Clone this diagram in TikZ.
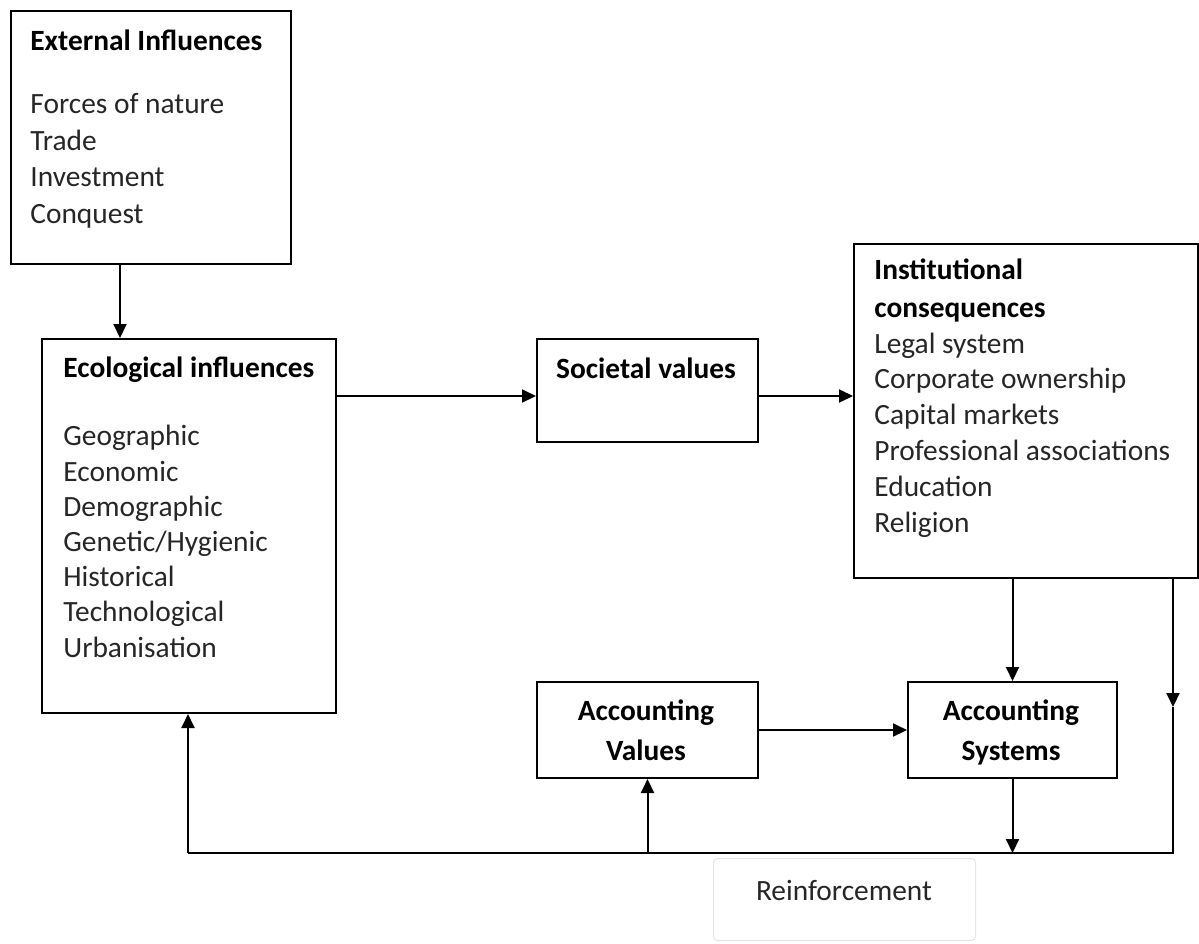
\documentclass[tikz,border=0pt]{standalone}
\usepackage{fontspec}
\setmainfont{Carlito}
\usetikzlibrary{arrows.meta}
\tikzstyle{boite} = [rectangle, draw=black, line width=1pt, anchor=north west, inner sep=0pt]
\tikzstyle{texte} = [anchor=base west, align=left, inner sep=0pt, text=black!85, font=\fontsize{14.7}{17.6}\selectfont]
\tikzstyle{titre} = [anchor=base, align=center, inner sep=0pt, text=black, font=\fontsize{14.7}{20}\selectfont\bfseries]
\tikzstyle{fleche} = [-{Triangle[length=7pt,width=6.5pt]}, line width=1pt]

\begin{document}
\begin{tikzpicture}[x=0.5pt, y=-0.5pt]
        \useasboundingbox (0,0) rectangle (1199,943);

        % boites
        \node (ext) [boite, minimum width=140pt, minimum height=126.5pt] at (10,10) {};
        \node (eco) [boite, minimum width=147pt, minimum height=187pt] at (41,338) {};
        \node (soc) [boite, minimum width=110.5pt, minimum height=51.5pt] at (536,338) {};
        \node (inst) [boite, minimum width=172pt, minimum height=167pt] at (853,243) {};
        \node (av) [boite, minimum width=110.5pt, minimum height=48pt] at (536,681) {};
        \node (as) [boite, minimum width=104.5pt, minimum height=48pt] at (907,681) {};
        \node (reinf) [boite, draw=black!10, line width=0.5pt, rounded corners=2pt, minimum width=131pt, minimum height=41pt] at (713,858) {};

        % textes (ancre = ligne de base de la derniere ligne)
        \node (extT) [texte, font=\fontsize{14.7}{18.2}\selectfont] at (30,223) {\textbf{\color{black}External Influences}\\[13.5pt]Forces of nature\\Trade\\Investment\\Conquest};
        \node (ecoT) [texte] at (63,657) {\textbf{\color{black}Ecological influences}\\[16.4pt]Geographic\\Economic\\Demographic\\Genetic/Hygienic\\Historical\\Technological\\Urbanisation};
        \node (socT) [titre] at (646,378) {Societal values};
        \node (instT) [texte, font=\fontsize{14.7}{17.9}\selectfont] at (874,532) {\textbf{\color{black}Institutional}\\[1pt]\textbf{\color{black}consequences}\\Legal system\\Corporate ownership\\Capital markets\\Professional associations\\Education\\Religion};
        \node (avT) [titre] at (646,760) {Accounting\\Values};
        \node (asT) [titre] at (1011,760) {Accounting\\Systems};
        \node (reinfT) [texte, anchor=base] at (844,900) {Reinforcement};

        % fleches
        \coordinate (x120) at (120,0);
        \coordinate (yflux) at (0,396);
        \coordinate (rtip) at (1173,707);
        \coordinate (br) at (1173,853);
        \coordinate (bl) at (188,853);

        \draw[fleche] (ext.south -| x120) -- (eco.north -| x120);
        \draw[fleche] (eco.east |- yflux) -- (soc.west |- yflux);
        \draw[fleche] (soc.east |- yflux) -- (inst.west |- yflux);
        \draw[fleche] (inst.south -| as.north) -- (as.north);
        \draw[fleche] (inst.south -| rtip) -- (rtip);
        \draw[fleche] (av.east) -- (as.west);
        \draw[fleche] (as.south) -- (as.south |- br);
        \draw[line width=1pt] (rtip) -- (br) -- (bl);
        \draw[fleche] (av.south |- br) -- (av.south);
        \draw[fleche] (bl) -- (bl |- eco.south);

    \end{tikzpicture}
\end{document}
